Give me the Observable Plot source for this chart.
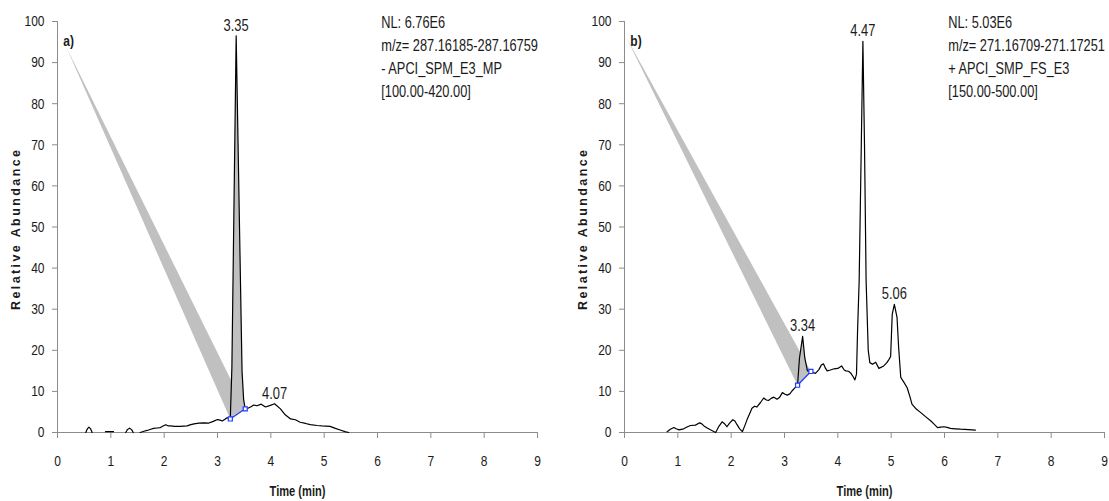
<!DOCTYPE html>
<html>
<head>
<meta charset="utf-8">
<script src="https://cdn.jsdelivr.net/npm/d3@7"></script>
<script src="https://cdn.jsdelivr.net/npm/@observablehq/plot@0.6"></script>
<style>
  html, body { margin: 0; padding: 0; background: #fff; }
  #chart { position: relative; width: 1109px; height: 501px; overflow: hidden; }
  #chart svg { position: absolute; top: 0; overflow: visible; }
</style>
</head>
<body>
<div id="chart"></div>
<script>
// Extracted ion chromatograms: time (min) vs relative abundance (%)
// Trace a) — null entries break the line between separate segments
const traceA = [
  [0.53, 0], [0.56, 0.9], [0.59, 1.3], [0.62, 0.9], [0.65, 0], null,
  [0.90, 0.2], [1.05, 0.2], null,
  [1.28, 0], [1.31, 0.7], [1.35, 1.05], [1.39, 0.7], [1.42, 0], null,
  [1.55, 0], [1.62, 0.3], [1.68, 0.5], [1.75, 0.8], [1.80, 1.0], [1.87, 1.1], [1.93, 1.2],
  [1.97, 1.5], [2.03, 1.9], [2.08, 1.6], [2.12, 1.6], [2.20, 1.5], [2.30, 1.5], [2.43, 1.6],
  [2.50, 1.9], [2.56, 2.1], [2.65, 2.3], [2.74, 2.35], [2.84, 2.3], [2.92, 2.7], [3.00, 3.15],
  [3.05, 3.0], [3.09, 2.8], [3.14, 3.2], [3.18, 3.6], [3.24, 3.3],
  [3.27, 16], [3.35, 96.5], [3.46, 15], [3.49, 8], [3.52, 5.75],
  [3.57, 5.9], [3.62, 6.2], [3.68, 6.7], [3.74, 6.5], [3.82, 6.9], [3.90, 6.2], [3.99, 6.6],
  [4.07, 7.0], [4.18, 5.75], [4.27, 4.3], [4.37, 3.3], [4.46, 3.1], [4.55, 2.5], [4.65, 2.2],
  [4.74, 1.9], [4.87, 1.7], [4.96, 1.6], [5.11, 1.5], [5.21, 1.0], [5.30, 0.6], [5.39, 0.2], [5.46, 0]
];

// Trace b)
const traceB = [
  [0.80, 0.2], [0.86, 0.8], [0.925, 1.2], [0.97, 0.9], [1.02, 0.65], [1.11, 0.9], [1.18, 1.4],
  [1.24, 1.7], [1.33, 1.8], [1.41, 2.35], [1.45, 2.1], [1.49, 1.6], [1.55, 1.1], [1.61, 0.65],
  [1.71, 0], [1.77, 1.5], [1.83, 2.6], [1.87, 2.2], [1.92, 1.4], [1.97, 2.3], [2.03, 3.1],
  [2.07, 2.8], [2.11, 1.9], [2.16, 0.9], [2.21, 0.2], [2.26, 1.8], [2.30, 3.2], [2.35, 4.7],
  [2.39, 5.9], [2.44, 6.4], [2.48, 6.2], [2.55, 7.3], [2.61, 8.4], [2.66, 7.9], [2.70, 7.8],
  [2.75, 8.3], [2.80, 8.6], [2.86, 8.1], [2.91, 8.6], [2.96, 9.7], [3.01, 9.3], [3.05, 9.1],
  [3.10, 9.4], [3.14, 10.1], [3.19, 10.8], [3.245, 11.5],
  [3.28, 18], [3.34, 23.4], [3.38, 18.2], [3.43, 15], [3.495, 14.85],
  [3.54, 14.6], [3.58, 14.4], [3.645, 15.3], [3.69, 16.4], [3.73, 16.7], [3.77, 15.6],
  [3.80, 15.0], [3.86, 15.2], [3.93, 15.5], [4.00, 15.6], [4.07, 16.2], [4.12, 15.2],
  [4.15, 15.0], [4.20, 14.9], [4.24, 14.5], [4.29, 13.5], [4.32, 12.8], [4.35, 14.2],
  [4.37, 24.7], [4.40, 37], [4.44, 70], [4.47, 95.2], [4.50, 70], [4.53, 37], [4.57, 20],
  [4.60, 17.0], [4.65, 16.6], [4.71, 17.1], [4.77, 15.6], [4.86, 16.2], [4.92, 17.0],
  [4.96, 17.8], [4.99, 18.5], [5.02, 28.8], [5.06, 31.2], [5.11, 28], [5.14, 20.7],
  [5.18, 13.4], [5.24, 12.2], [5.30, 10.9], [5.35, 8.8], [5.39, 6.9], [5.47, 5.7],
  [5.55, 4.9], [5.65, 3.8], [5.74, 2.85], [5.80, 2.1], [5.87, 1.2], [5.93, 1.3], [5.99, 1.4],
  [6.05, 1.25], [6.11, 1.0], [6.20, 0.9], [6.30, 0.8], [6.45, 0.7], [6.58, 0.6]
];

// Labelled peak apexes
const peaksA = [[3.35, 96.5], [4.07, 7.0]];
const peaksB = [[3.34, 23.4], [4.47, 95.2], [5.06, 31.2]];

// Integration baseline end points of the shaded peak
const baselineA = [[3.24, 3.3], [3.52, 5.75]];
const baselineB = [[3.245, 11.5], [3.495, 14.85]];

// Apex of the shaded call-out wedge
const wedgeTopA = [0.16, 93.9];
const wedgeTopB = [0.03, 96.2];

// Scan header text
const infoA = ["NL: 6.76E6", "m/z= 287.16185-287.16759", "- APCI_SPM_E3_MP", "[100.00-420.00]"];
const infoB = ["NL: 5.03E6", "m/z= 271.16709-271.17251", "+ APCI_SMP_FS_E3", "[150.00-500.00]"];

const xTicks = d3.range(0, 10, 1);
const yTicks = d3.range(0, 101, 10);

const SANS = '"Liberation Sans", Arial, sans-serif';
const AXIS = "#8c8c8c";
const INK = "#1a1a1a";
const SHADE = "#c0c0c0";
const BLUE = "#1f3cff";
const X_TITLE = "Time (min)";
const Y_TITLE = "Relative Abundance";

// Horizontal squeeze per label kind, giving a narrow face
function squeezeFor(text) {
  if (text === X_TITLE) return 0.74;
  if (/^\d\.\d\d$/.test(text)) return 0.76;
  return 0.8;
}

function panel({trace, peaks, baseline, wedgeTop, tag, info, width, marginLeft, marginRight}) {
  const pts = trace.map(p => p ? {t: p[0], v: p[1]} : {t: NaN, v: NaN});
  const [b0, b1] = baseline;
  const peakArea = trace.filter(p => p && p[0] >= b0[0] && p[0] <= b1[0]).map(p => ({t: p[0], v: p[1]}));
  const wedge = [wedgeTop, b0, b1].map(p => ({t: p[0], v: p[1]}));
  const base = baseline.map(p => ({t: p[0], v: p[1]}));
  const peakLabels = peaks.map(p => ({t: p[0], v: p[1], label: p[0].toFixed(2)}));

  const svg = Plot.plot({
    width, height: 501,
    marginLeft, marginRight, marginTop: 21, marginBottom: 69,
    x: {domain: [0, 9]},
    y: {domain: [0, 100]},
    style: {fontFamily: SANS, fontSize: "15px", color: INK, background: "transparent", overflow: "visible"},
    marks: [
      Plot.line(wedge, {x: "t", y: "v", fill: SHADE, stroke: "none"}),
      Plot.line(peakArea, {x: "t", y: "v", fill: SHADE, stroke: "none"}),
      Plot.ruleX([0], {stroke: AXIS}),
      Plot.ruleY([0], {stroke: AXIS}),
      Plot.axisX({ticks: xTicks, tickSize: 6, tickPadding: 17, stroke: AXIS, fill: INK, label: null, tickFormat: d => d}),
      Plot.axisY({ticks: yTicks, tickSize: 5, tickPadding: 8, stroke: AXIS, fill: INK, label: null, tickFormat: d => d}),
      Plot.line(pts, {x: "t", y: "v", stroke: "#000", strokeWidth: 1.2}),
      Plot.line(base, {x: "t", y: "v", stroke: BLUE, strokeWidth: 1.2}),
      Plot.dot(base, {x: "t", y: "v", symbol: "square", r: 2.3, stroke: BLUE, strokeWidth: 1.2, fill: "#fff"}),
      Plot.text(peakLabels, {x: "t", y: "v", text: "label", lineAnchor: "bottom", dy: -5, fontSize: 17, fill: INK}),
      Plot.text([tag], {x: 0.11, y: 95.2, text: d => d, textAnchor: "start", lineAnchor: "middle", fontWeight: "bold", fontSize: 15, fill: INK}),
      Plot.text([info.join("\n")], {x: 6.07, y: 102.5, text: d => d, textAnchor: "start", lineAnchor: "top", lineHeight: 1.44, fontSize: 16, fill: INK}),
      Plot.text([X_TITLE], {frameAnchor: "bottom", dy: 59, lineAnchor: "middle", fontWeight: "bold", fontSize: 15, fill: INK}),
      Plot.text([Y_TITLE], {frameAnchor: "left", textAnchor: "middle", lineAnchor: "middle", dx: -42, dy: 3, rotate: -90, fontWeight: "bold", fontSize: 12.5, fill: INK})
    ]
  });

  svg.querySelectorAll("text").forEach(t => {
    const label = t.textContent;
    if (label === Y_TITLE) {
      // wide, evenly spaced lettering along the rotated title
      t.setAttribute("textLength", 160);
      t.setAttribute("lengthAdjust", "spacing");
      return;
    }
    const k = squeezeFor(label);
    const tr = t.getAttribute("transform");
    if (tr) {
      t.setAttribute("transform", `${tr} scale(${k},1)`);
    } else {
      const x = +(t.getAttribute("x") || 0), y = +(t.getAttribute("y") || 0);
      t.setAttribute("x", 0);
      t.setAttribute("y", 0);
      t.setAttribute("transform", `translate(${x},${y}) scale(${k},1)`);
    }
  });
  return svg;
}

const chart = document.getElementById("chart");

const left = panel({
  trace: traceA, peaks: peaksA, baseline: baselineA, wedgeTop: wedgeTopA,
  tag: "a)", info: infoA, width: 555, marginLeft: 57, marginRight: 18
});
left.style.left = "0px";
chart.appendChild(left);

const right = panel({
  trace: traceB, peaks: peaksB, baseline: baselineB, wedgeTop: wedgeTopB,
  tag: "b)", info: infoB, width: 554, marginLeft: 69, marginRight: 5
});
right.style.left = "555px";
chart.appendChild(right);
</script>
</body>
</html>
